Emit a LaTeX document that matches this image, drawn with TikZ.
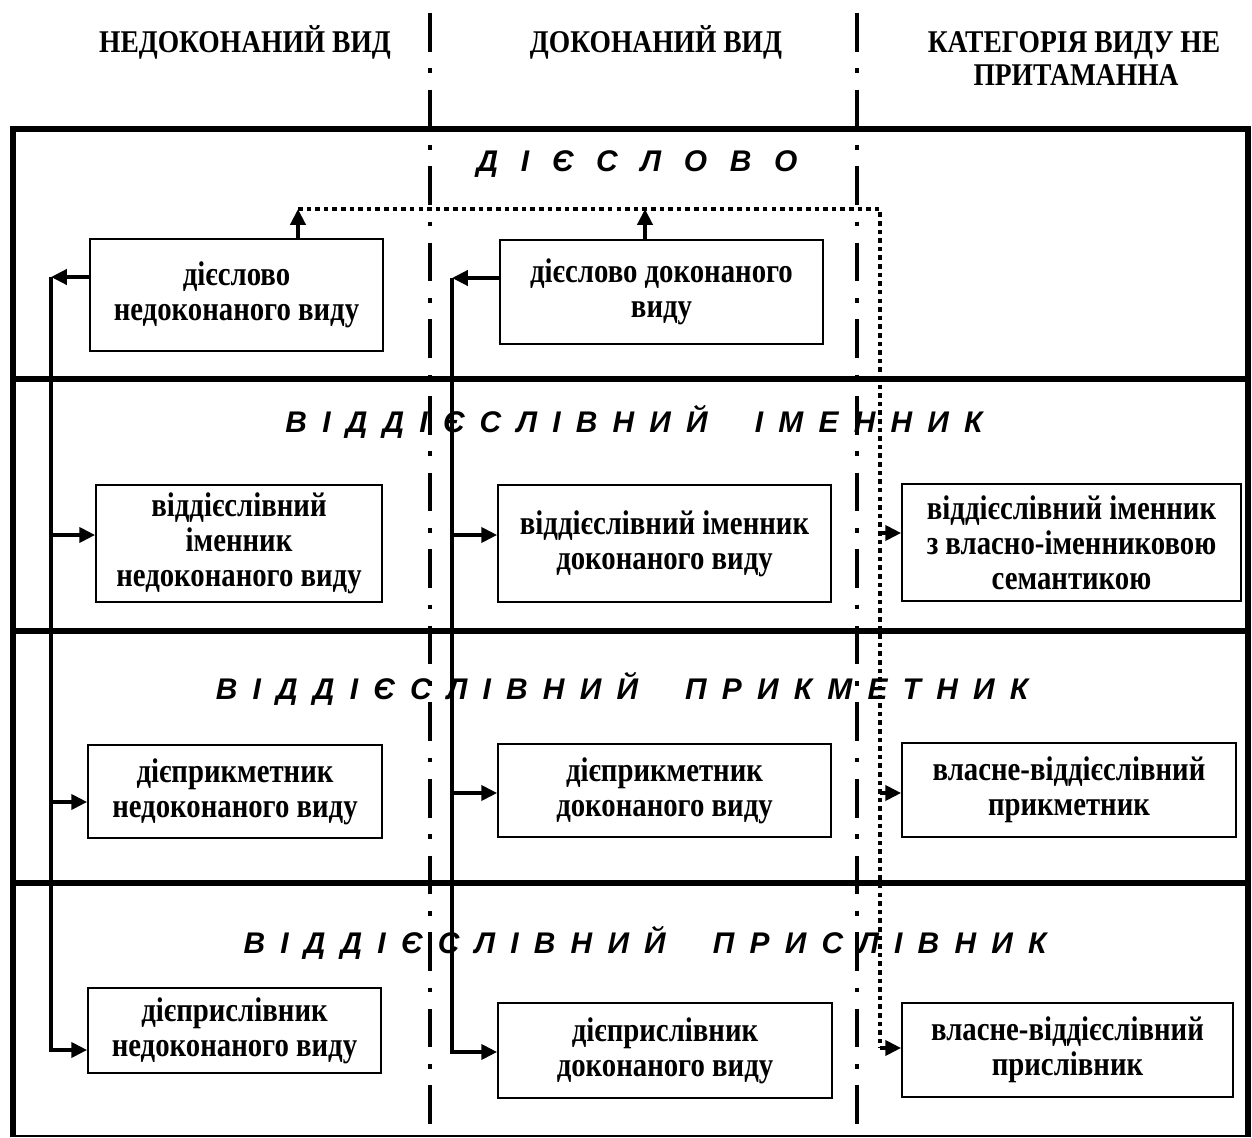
\documentclass[tikz,border=0pt]{standalone}
\usepackage{fontspec}
\setmainfont{Liberation Serif}
\newfontfamily\boxfont{Liberation Serif}[FakeStretch=0.84]
\newfontfamily\headfont{Liberation Serif}[FakeStretch=0.87]
\newfontfamily\titlefont{Liberation Sans}
\usetikzlibrary{arrows.meta}
\newlength\lgap
\newlength\wgap
\def\spx#1{\ifx#1\relax\else\spy#1\expandafter\spx\fi}
\def\spy#1{\ifx#1*\hspace{\wgap}\else#1\hspace{\lgap}\fi}
\newcommand\spaced[3]{\setlength\lgap{#1}\setlength\wgap{#2}\spx#3\relax\unskip}
\tikzset{
  box/.style={draw, line width=1pt, align=center, inner sep=2pt,
    font={\boxfont\bfseries\fontsize{19.5}{20}\selectfont}},
  head/.style={anchor=base, inner sep=0pt,
    font={\headfont\bfseries\fontsize{18}{18}\selectfont}},
  ttl/.style={anchor=base, inner sep=0pt,
    font={\titlefont\bfseries\itshape\fontsize{17}{17}\selectfont}},
  frameline/.style={line width=3.4pt},
  axisline/.style={line width=2.6pt, dash pattern=on 22pt off 9.5pt on 2.6pt off 9.5pt},
  conn/.style={line width=2.2pt},
  arr/.style={conn, -{Triangle[length=9pt,width=8.5pt]}},
  dots/.style={line width=2.6pt, dash pattern=on 2.6pt off 2.3pt}
}
\begin{document}
\begin{tikzpicture}[x=0.02cm, y=-0.02cm]
\useasboundingbox (0,0) rectangle (1252,1138);

% headers
\node[head] (h1) at (245,53) {НЕДОКОНАНИЙ ВИД};
\node[head] (h2) at (656,53) {ДОКОНАНИЙ ВИД};
\node[head] (h3) at (1074,53) {КАТЕГОРІЯ ВИДУ НЕ};
\node[head] (h4) at (1076,86) {ПРИТАМАННА};

% frame
\draw[frameline] (13,1137) -- (13,129) -- (1248,129) -- (1248,1137);
\draw[line width=1pt] (13,1136) -- (1248,1136);
\draw[frameline] (13,379) -- (1248,379);
\draw[frameline] (13,631) -- (1248,631);
\draw[frameline] (13,883) -- (1248,883);

% column separators
\draw[axisline] (430,13) -- (430,1138);
\draw[axisline] (857,13) -- (857,1138);

% section titles
\node[ttl] (t1) at (637,172) {\spaced{0.455cm}{0cm}{ДІЄСЛОВО}};
\node[ttl] (t2) at (634,433) {\spaced{0.305cm}{0.64cm}{ВІДДІЄСЛІВНИЙ*ІМЕННИК}};
\node[ttl] (t3) at (622,700) {\spaced{0.305cm}{0.64cm}{ВІДДІЄСЛІВНИЙ*ПРИКМЕТНИК}};
\node[ttl] (t4) at (645,953) {\spaced{0.305cm}{0.64cm}{ВІДДІЄСЛІВНИЙ*ПРИСЛІВНИК}};

% boxes
\node[box, minimum width=5.86cm, minimum height=2.24cm] (a1) at (236.5,295) {дієслово\\недоконаного виду};
\node[box, minimum width=6.46cm, minimum height=2.08cm] (b1) at (661.5,292) {дієслово доконаного\\виду};
\node[box, minimum width=5.72cm, minimum height=2.34cm] (a2) at (239,543.5) {віддієслівний\\іменник\\недоконаного виду};
\node[box, minimum width=6.66cm, minimum height=2.34cm] (b2) at (664.5,543.5) {віддієслівний іменник\\доконаного виду};
\node[box, minimum width=6.78cm, minimum height=2.34cm] (c2) at (1071.5,542.5) {віддієслівний іменник\\з власно-іменниковою\\семантикою};
\node[box, minimum width=5.88cm, minimum height=1.86cm] (a3) at (235,791.5) {дієприкметник\\недоконаного виду};
\node[box, minimum width=6.66cm, minimum height=1.86cm] (b3) at (664.5,790.5) {дієприкметник\\доконаного виду};
\node[box, minimum width=6.68cm, minimum height=1.88cm] (c3) at (1069,790) {власне-віддієслівний\\прикметник};
\node[box, minimum width=5.86cm, minimum height=1.70cm] (a4) at (234.5,1030.5) {дієприслівник\\недоконаного виду};
\node[box, minimum width=6.68cm, minimum height=1.90cm] (b4) at (665,1050.5) {дієприслівник\\доконаного виду};
\node[box, minimum width=6.62cm, minimum height=1.88cm] (c4) at (1067.5,1050) {власне-віддієслівний\\прислівник};

% helper coordinates
\coordinate (lt) at (51,277);
\coordinate (mt) at (452,278);
\coordinate (ya2) at (0,535);
\coordinate (ya3) at (0,802);
\coordinate (ya4) at (0,1050);
\coordinate (yb2) at (0,535);
\coordinate (yb3) at (0,793);
\coordinate (yb4) at (0,1052);
\coordinate (yc2) at (0,533);
\coordinate (yc3) at (0,793);
\coordinate (yc4) at (0,1048);
\coordinate (d0) at (298,209);
\coordinate (d1) at (645,209);
\coordinate (dc) at (880,209);

% left trunk (imperfective)
\draw[arr] (a1.west |- lt) -- (lt);
\draw[arr] (lt) |- (a4.west |- ya4);
\draw[arr] (lt |- ya2) -- (a2.west |- ya2);
\draw[arr] (lt |- ya3) -- (a3.west |- ya3);

% middle trunk (perfective)
\draw[arr] (b1.west |- mt) -- (mt);
\draw[arr] (mt) |- (b4.west |- yb4);
\draw[arr] (mt |- yb2) -- (b2.west |- yb2);
\draw[arr] (mt |- yb3) -- (b3.west |- yb3);

% dotted connector
\draw[dots] (d0) -- (dc) -- (dc |- yc4);
\draw[arr] (a1.north -| d0) -- (d0);
\draw[arr] (b1.north -| d1) -- (d1);
\draw[arr] (dc |- yc2) -- (c2.west |- yc2);
\draw[arr] (dc |- yc3) -- (c3.west |- yc3);
\draw[arr] (dc |- yc4) -- (c4.west |- yc4);
\end{tikzpicture}
\end{document}
